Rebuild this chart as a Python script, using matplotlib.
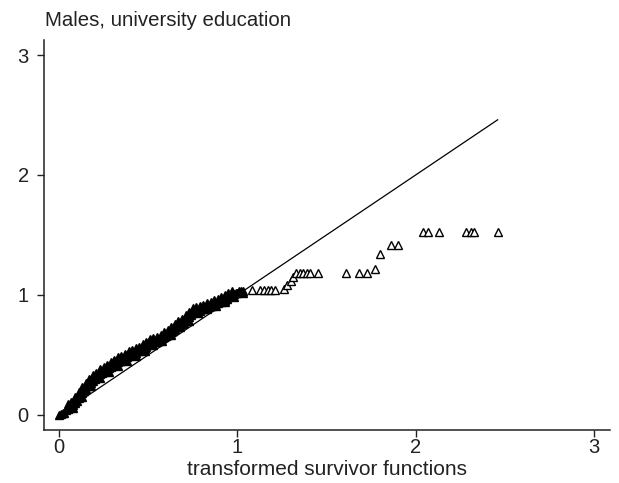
import matplotlib
matplotlib.use("Agg")
import matplotlib.pyplot as plt

plt.rcParams['font.family'] = ['Liberation Sans', 'DejaVu Sans']

title = "Males, university education"
xlabel = "transformed survivor functions"
xticks = [0, 1, 2, 3]
yticks = [0, 1, 2, 3]

# reference line (45-degree)
line_x = [0.0, 2.46]
line_y = [0.0, 2.46]

# dense part of the band (centre)
dense_x = [0.00, 0.01, 0.02, 0.03, 0.04, 0.05, 0.06, 0.07, 0.08, 0.09,
           0.10, 0.11, 0.12, 0.13, 0.14, 0.15, 0.16, 0.17, 0.18, 0.19,
           0.20, 0.21, 0.22, 0.23, 0.24, 0.25, 0.26, 0.27, 0.28, 0.29,
           0.30, 0.31, 0.32, 0.33, 0.34, 0.35, 0.36, 0.37, 0.38, 0.39,
           0.40, 0.41, 0.42, 0.43, 0.44, 0.45, 0.46, 0.47, 0.48, 0.49,
           0.50, 0.51, 0.52, 0.53, 0.54, 0.55, 0.56, 0.57, 0.58, 0.59,
           0.60, 0.61, 0.62, 0.63, 0.64, 0.65, 0.66, 0.67, 0.68, 0.69,
           0.70, 0.71, 0.72, 0.73, 0.74, 0.75, 0.76, 0.77, 0.78, 0.79,
           0.80, 0.81, 0.82, 0.83, 0.84, 0.85, 0.86, 0.87, 0.88, 0.89,
           0.90, 0.91, 0.92, 0.93, 0.94, 0.95, 0.96, 0.97, 0.98, 0.99,
           1.00, 1.01, 1.02, 1.03]
dense_y = [0.00, 0.01, 0.02, 0.02, 0.04, 0.05, 0.06, 0.07, 0.08, 0.10,
           0.12, 0.14, 0.16, 0.18, 0.20, 0.22, 0.24, 0.25, 0.27, 0.28,
           0.30, 0.31, 0.32, 0.34, 0.35, 0.36, 0.37, 0.38, 0.39, 0.40,
           0.41, 0.42, 0.43, 0.44, 0.45, 0.45, 0.46, 0.47, 0.48, 0.49,
           0.50, 0.50, 0.51, 0.52, 0.53, 0.53, 0.54, 0.55, 0.56, 0.57,
           0.58, 0.59, 0.60, 0.61, 0.61, 0.61, 0.62, 0.63, 0.64, 0.65,
           0.66, 0.67, 0.68, 0.69, 0.70, 0.72, 0.73, 0.74, 0.75, 0.76,
           0.77, 0.79, 0.80, 0.82, 0.83, 0.85, 0.86, 0.86, 0.87, 0.87,
           0.88, 0.88, 0.89, 0.89, 0.90, 0.91, 0.91, 0.92, 0.93, 0.93,
           0.94, 0.94, 0.95, 0.96, 0.97, 0.98, 0.99, 1.00, 1.01, 1.02,
           1.02, 1.03, 1.03, 1.03]

# upper edge of the band
upper_x = [0.05, 0.07, 0.09, 0.11, 0.13, 0.15, 0.17, 0.19, 0.21, 0.23,
           0.25, 0.27, 0.29, 0.31, 0.33, 0.35, 0.37, 0.39, 0.41, 0.43,
           0.45, 0.47, 0.49, 0.51, 0.53, 0.55, 0.57, 0.59, 0.61, 0.63,
           0.65, 0.67, 0.69, 0.71, 0.73, 0.75, 0.77, 0.79, 0.81, 0.83,
           0.85, 0.87, 0.89, 0.91, 0.93, 0.95, 0.97]
upper_y = [0.09, 0.11, 0.15, 0.19, 0.23, 0.27, 0.30, 0.33, 0.35, 0.38,
           0.40, 0.42, 0.44, 0.46, 0.48, 0.49, 0.51, 0.53, 0.54, 0.56,
           0.57, 0.59, 0.61, 0.63, 0.64, 0.65, 0.67, 0.69, 0.71, 0.73,
           0.76, 0.78, 0.80, 0.83, 0.86, 0.89, 0.90, 0.91, 0.92, 0.93,
           0.94, 0.96, 0.97, 0.98, 1.00, 1.02, 1.03]

# lower step points within the band
step_x = [0.08, 0.13, 0.18, 0.23, 0.28, 0.33, 0.38, 0.43, 0.48, 0.53,
          0.58, 0.63, 0.68, 0.73, 0.78, 0.83, 0.88, 0.93, 0.98, 1.03]
step_y = [0.06, 0.15, 0.24, 0.31, 0.36, 0.41, 0.45, 0.49, 0.53, 0.58,
          0.62, 0.67, 0.73, 0.78, 0.85, 0.88, 0.91, 0.94, 0.98, 1.02]

# sparse tail
tail_x = [1.08, 1.13, 1.15, 1.17, 1.19, 1.21, 1.26, 1.28, 1.30, 1.31,
          1.33, 1.35, 1.37, 1.39, 1.41, 1.45, 1.61, 1.68, 1.73, 1.77,
          1.80, 1.86, 1.90, 2.04, 2.07, 2.13, 2.28, 2.31, 2.33, 2.46]
tail_y = [1.04, 1.04, 1.04, 1.04, 1.04, 1.04, 1.05, 1.08, 1.12, 1.15,
          1.18, 1.18, 1.18, 1.18, 1.18, 1.18, 1.18, 1.18, 1.18, 1.22,
          1.34, 1.42, 1.42, 1.525, 1.525, 1.525, 1.525, 1.525, 1.525, 1.525]

fig = plt.figure(figsize=(6.19, 4.83), dpi=100)
ax = fig.add_axes([44/619, (483-430)/483, (610-44)/619, (430-40)/483])

ax.plot(line_x, line_y, color='black', lw=0.9, zorder=2)

# heavily overlapping hollow triangles appear solid in the dense part
mk_dense = dict(marker='^', linestyle='none', markersize=5.2, markerfacecolor='black',
                markeredgecolor='black', markeredgewidth=1.0, zorder=3)
mk = dict(marker='^', linestyle='none', markersize=5.2, markerfacecolor='white',
          markeredgecolor='black', markeredgewidth=1.0, zorder=3)
ax.plot(dense_x, dense_y, **mk_dense)
ax.plot(upper_x, upper_y, **mk_dense)
ax.plot(step_x, step_y, **mk_dense)
ax.plot(tail_x, tail_y, **mk)

ax.set_xlim(-0.084, 3.09)
ax.set_ylim(-0.125, 3.125)
ax.set_xticks(xticks)
ax.set_yticks(yticks)
ax.set_xticklabels([str(t) for t in xticks])
ax.set_yticklabels([str(t) for t in yticks])

for s in ['top', 'right']:
    ax.spines[s].set_visible(False)
for s in ['left', 'bottom']:
    ax.spines[s].set_linewidth(1.1)
    ax.spines[s].set_color('#222222')

ax.tick_params(axis='both', direction='out', length=5, width=1.0, color='#222222',
               labelsize=14.5, labelcolor='#222222')
ax.tick_params(axis='y', pad=6)
ax.tick_params(axis='x', pad=1)

ax.set_xlabel(xlabel, fontsize=15, color='#222222', labelpad=2)
fig.text(45/619, 1 - 21/483, title, fontsize=14.7, color='#222222',
         ha='left', va='center')

fig.savefig('out.png', dpi=100, facecolor='white')
